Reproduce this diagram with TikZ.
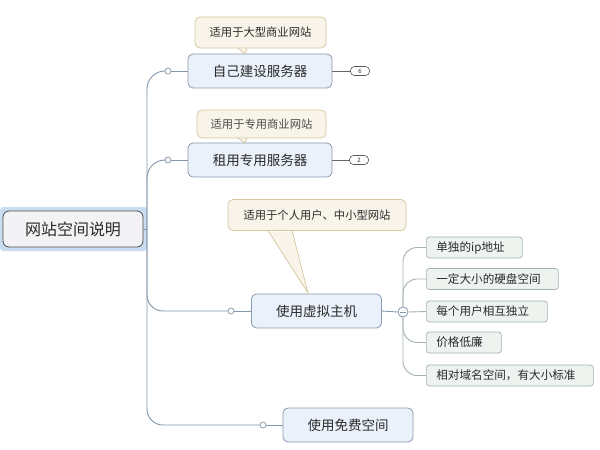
\documentclass[tikz,border=0pt]{standalone}
\usepackage{fontspec}
\setmainfont{Noto Sans CJK SC}
\definecolor{conn}{HTML}{8296AC}
\definecolor{mainfill}{HTML}{EAF1FA}
\definecolor{mainline}{HTML}{8A9BB0}
\definecolor{callfill}{HTML}{F8F4EA}
\definecolor{callline}{HTML}{D6C79E}
\definecolor{kidfill}{HTML}{EEF3EF}
\definecolor{kidline}{HTML}{A3B3AA}
\definecolor{txt}{HTML}{2A2A2A}
\definecolor{rootfill}{HTML}{F3F3F5}
\definecolor{halo}{HTML}{C9DDF1}
\begin{document}
\begin{tikzpicture}[x=1pt,y=-1pt,
  mainbox/.style={draw=mainline,fill=mainfill,rounded corners=5pt,line width=0.8pt,text=txt,
     inner sep=0pt,font=\fontsize{13.5}{16}\selectfont,minimum height=34pt},
  callbox/.style={draw=callline,fill=callfill,rounded corners=5pt,line width=0.7pt,text=txt,
     inner sep=0pt,font=\fontsize{11.3}{14}\selectfont},
  kidbox/.style={draw=kidline,fill=kidfill,rounded corners=3pt,line width=0.7pt,text=txt,
     inner sep=0pt,font=\fontsize{11.6}{14}\selectfont,minimum height=21pt,anchor=west,
     text width=#1-20pt,minimum width=#1,align=left},
  link/.style={draw=conn,line width=0.9pt},
  dot/.style={circle,draw=conn,fill=white,line width=0.7pt,minimum size=6pt,inner sep=0pt},
  badge/.style={draw=black!65,fill=white,rounded corners=4pt,line width=0.6pt,inner sep=0pt,
     minimum width=19pt,minimum height=9pt,font=\fontsize{6}{6}\selectfont,text=txt}
]
\useasboundingbox (0,0) rectangle (600,450);
\fill[white] (0,0) rectangle (600,450);

% root
\fill[halo,rounded corners=3pt] (0,207) rectangle (147,251);
\node[draw=black!70,fill=rootfill,rounded corners=6pt,line width=0.8pt,inner sep=0pt,
  minimum width=140pt,minimum height=36pt,text=txt,font=\fontsize{16}{19}\selectfont]
  (root) at (73,229) {网站空间说明};
\coordinate (trunk) at (147,229);

% main nodes
\node[mainbox,minimum width=144pt] (n1) at (260,71) {自己建设服务器};
\node[mainbox,minimum width=144pt] (n2) at (260,160) {租用专用服务器};
\node[mainbox,minimum width=130pt] (n3) at (316.5,311) {使用虚拟主机};
\node[mainbox,minimum width=130pt] (n4) at (348,425) {使用免费空间};

\node[dot] (c1) at (168,71) {};
\node[dot] (c2) at (168,160) {};
\node[dot] (c3) at (231,311) {};
\node[dot] (c4) at (263,425) {};

\draw[link] (root.east) -- (trunk);
\draw[link,rounded corners=18pt] (trunk) |- (c1);
\draw[link,rounded corners=18pt] (trunk) |- (c2);
\draw[link,rounded corners=16pt] (trunk) |- (c3);
\draw[link,rounded corners=16pt] (trunk) |- (c4);
\draw[link] (c1) -- (n1.west);
\draw[link] (c2) -- (n2.west);
\draw[link] (c3) -- (n3.west);
\draw[link] (c4) -- (n4.west);

% badges
\node[badge] (b6) at (360,71) {6};
\node[badge] (b2) at (359,160) {2};
\draw[link,draw=black!60,line width=0.6pt] (n1.east) -- (b6.west);
\draw[link,draw=black!60,line width=0.6pt] (n2.east) -- (b2.west);

% callouts
\node[callbox,minimum width=131pt,minimum height=31pt] (k1) at (260.5,32.5) {适用于大型商业网站};
\coordinate (k1a) at (238,48);
\coordinate (k1b) at (247,48);
\coordinate (k1t) at (245,54);
\fill[callfill] ([yshift=-1.2pt]k1a) -- (k1t) -- ([yshift=-1.2pt]k1b) -- cycle;
\draw[callline,line width=0.7pt] (k1a) -- (k1t) -- (k1b);

\node[callbox,minimum width=129pt,minimum height=28pt,text=txt!85] (k2) at (261.5,124) {适用于专用商业网站};
\coordinate (k2a) at (238,138);
\coordinate (k2b) at (247,138);
\coordinate (k2t) at (245,143);
\fill[callfill] ([yshift=-1.2pt]k2a) -- (k2t) -- ([yshift=-1.2pt]k2b) -- cycle;
\draw[callline,line width=0.7pt] (k2a) -- (k2t) -- (k2b);

\node[callbox,minimum width=178pt,minimum height=31pt] (k3) at (317,215) {适用于个人用户、中小型网站};
\coordinate (k3a) at (268,230.5);
\coordinate (k3b) at (292,230.5);
\coordinate (k3t) at (308,293);
\fill[callfill] ([yshift=-1.2pt]k3a) -- (k3t) -- ([yshift=-1.2pt]k3b) -- cycle;
\draw[callline,line width=0.7pt] (k3a) -- (k3t) -- (k3b);

% children of n3
\node[circle,draw=conn,fill=white,line width=0.8pt,minimum size=10pt,inner sep=0pt] (m) at (403,312) {};
\draw[conn,line width=0.8pt] ([xshift=-2.8pt]m.center) -- ([xshift=2.8pt]m.center);
\draw[link] (n3.east) -- (m.west);

\node[kidbox=96pt] (s1) at (426,247.5) {单独的ip地址};
\node[kidbox=132pt] (s2) at (426,279) {一定大小的硬盘空间};
\node[kidbox=121pt] (s3) at (426,311.5) {每个用户相互独立};
\node[kidbox=75pt] (s4) at (426,342.5) {价格低廉};
\node[kidbox=167pt] (s5) at (426,375.5) {相对域名空间，有大小标准};

\draw[link,draw=kidline,rounded corners=14pt] (m.north) |- (s1.west);
\draw[link,draw=kidline,rounded corners=14pt] (m.north) |- (s2.west);
\draw[link,draw=kidline] (m.east) -- (s3.west);
\draw[link,draw=kidline,rounded corners=14pt] (m.south) |- (s4.west);
\draw[link,draw=kidline,rounded corners=14pt] (m.south) |- (s5.west);
\end{tikzpicture}
\end{document}
